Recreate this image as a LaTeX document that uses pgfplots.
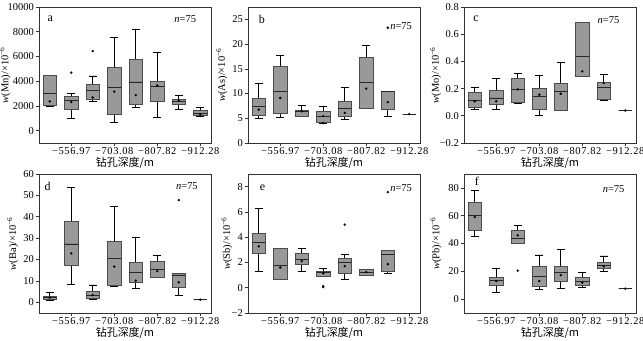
\documentclass[border=0pt]{standalone}
\usepackage{fontspec}
\setmainfont{Liberation Serif}
\newfontfamily\cjk{Noto Sans CJK SC}
\usepackage{pgfplots}
\pgfplotsset{compat=1.18}
\usepgfplotslibrary{statistics}

\pgfplotsset{
 panel/.style={
  scale only axis, width=172bp, height=136bp,
  anchor=south west,
  xmin=0.5, xmax=8.5,
  xtick={2,4,6,8},
  xticklabels={−556.97,−703.08,−807.82,−912.28},
  scaled y ticks=false,
  tick align=outside, tick pos=left,
  major tick length=3bp,
  axis line style={black!80, line width=0.8pt},
  tick style={black!80, line width=0.6pt},
  /pgf/number format/assume math mode=true,
  yticklabel style={font=\fontsize{10.5}{12}\selectfont, inner sep=2bp},
  xticklabel style={font=\fontsize{10.5}{12}\selectfont\addfontfeature{LetterSpace=6}, yshift=1.5bp},
  xlabel={\cjk 钻孔深度/m},
  xlabel style={font=\fontsize{11}{12}\selectfont, yshift=5bp},
  ylabel style={font=\fontsize{10.5}{12}\selectfont, anchor=south},
  boxplot/draw direction=y,
  boxplot/box extend=0.62,
  boxplot/whisker extend=0.35,
  boxplot/every whisker/.style={black, line width=0.7pt},
  boxplot/every median/.style={black!85, line width=0.7pt},
 },
 boxstyle/.style={draw=black!70, fill=gray!80, line width=0.7pt, solid},
 meanstyle/.style={only marks, mark=*, mark size=1.0pt, black},
}
\newcommand{\bx}[6]{\addplot[boxstyle, boxplot prepared={draw position=#1, lower whisker=#2, lower quartile=#3, median=#4, upper quartile=#5, upper whisker=#6}] coordinates {};}
\newcommand{\lab}[4]{\node[font=\fontsize{12}{12}\selectfont] at (rel axis cs:#1) {#2};\node[font=\fontsize{10.5}{12}\selectfont] at (rel axis cs:#3) {#4};}

\begin{document}
\begin{tikzpicture}
\useasboundingbox (0,0) rectangle (643bp,341bp);

% a Mn
\begin{axis}[panel, at={(39bp,198bp)}, ymin=-1000, ymax=10000,
  ytick={0,2000,4000,6000,8000,10000}, yticklabels={0,2000,4000,6000,8000,10000},
  ylabel={\textit{w}(Mn)/×10\textsuperscript{−6}},
  ylabel style={at={(axis description cs:-0.145,0.5)}}]
\bx{1}{1930}{2060}{3030}{4450}{4450}
\bx{2}{990}{1690}{2410}{2810}{3030}
\bx{3}{2330}{2490}{3270}{3780}{4420}
\bx{4}{670}{1340}{3490}{5120}{7560}
\bx{5}{1900}{2120}{3940}{5740}{8180}
\bx{6}{1100}{2330}{3570}{3990}{6330}
\bx{7}{1740}{2090}{2330}{2520}{2820}
\bx{8}{1130}{1210}{1390}{1640}{1850}
\addplot[meanstyle] coordinates {(1,2360)(2,2300)(3,2680)(4,3160)(5,2870)(6,3650)(7,2440)(8,1310)};
\addplot[meanstyle] coordinates {(2,4690)(3,6430)};
\lab{0.065,0.91}{a}{0.85,0.91}{\textit{n}=75}
\end{axis}

% b As
\begin{axis}[panel, at={(248bp,198bp)}, ymin=0, ymax=27.5,
  ytick={0,5,10,15,20,25}, yticklabels={0,5,10,15,20,25},
  ylabel={\textit{w}(As)/×10\textsuperscript{−6}},
  ylabel style={at={(axis description cs:-0.1,0.5)}}]
\bx{1}{4.9}{5.5}{7.4}{9.0}{12.0}
\bx{2}{5.1}{6.0}{10.4}{15.4}{17.7}
\bx{3}{5.3}{5.3}{6.3}{6.6}{7.6}
\bx{4}{4.0}{4.2}{5.3}{6.4}{7.4}
\bx{5}{4.8}{5.3}{6.95}{8.4}{11.2}
\bx{6}{7.1}{7.1}{12.2}{17.3}{19.7}
\bx{7}{5.45}{6.8}{10.5}{10.5}{10.5}
\bx{8}{5.85}{5.85}{5.85}{5.85}{5.85}
\addplot[meanstyle] coordinates {(1,6.75)(2,9.1)(3,6.4)(4,5.45)(5,6.1)(6,11.0)(7,8.25)(8,5.85)};
\addplot[meanstyle] coordinates {(4,4.0)(7,23.3)};
\lab{0.08,0.91}{b}{0.89,0.86}{\textit{n}=75}
\end{axis}

% c Mo
\begin{axis}[panel, at={(464bp,198bp)}, ymin=-0.2, ymax=0.8,
  ytick={-0.2,0,0.2,0.4,0.6,0.8}, yticklabels={−0.2,0.0,0.2,0.4,0.6,0.8},
  ylabel={\textit{w}(Mo)/×10\textsuperscript{−6}},
  ylabel style={at={(axis description cs:-0.112,0.5)}}]
\bx{1}{0.044}{0.061}{0.116}{0.172}{0.209}
\bx{2}{0.044}{0.085}{0.131}{0.184}{0.276}
\bx{3}{0.095}{0.099}{0.194}{0.279}{0.31}
\bx{4}{0.0}{0.051}{0.143}{0.201}{0.296}
\bx{5}{0.041}{0.041}{0.177}{0.24}{0.395}
\bx{6}{0.288}{0.288}{0.436}{0.688}{0.688}
\bx{7}{0.116}{0.124}{0.206}{0.247}{0.305}
\bx{8}{0.039}{0.039}{0.039}{0.039}{0.039}
\addplot[meanstyle] coordinates {(1,0.107)(2,0.107)(3,0.194)(4,0.155)(5,0.162)(6,0.327)(7,0.24)(8,0.039)};
\lab{0.07,0.91}{c}{0.84,0.9}{\textit{n}=75}
\end{axis}

% d Ba
\begin{axis}[panel, at={(39bp,28bp)}, height=139bp, ymin=-5, ymax=60,
  ytick={0,10,20,30,40,50,60}, yticklabels={0,10,20,30,40,50,60},
  ylabel={\textit{w}(Ba)/×10\textsuperscript{−6}},
  ylabel style={at={(axis description cs:-0.1,0.5)}}]
\bx{1}{1.1}{1.25}{2.2}{2.8}{4.7}
\bx{2}{8.5}{17.1}{27.3}{38.0}{53.7}
\bx{3}{1.6}{1.9}{3.4}{5.0}{8.1}
\bx{4}{7.3}{7.8}{20.6}{28.3}{44.9}
\bx{5}{6.5}{9.3}{14.0}{18.7}{30.2}
\bx{6}{11.5}{11.5}{15.4}{19.2}{21.8}
\bx{7}{3.1}{7.0}{12.8}{13.4}{13.4}
\bx{8}{1.25}{1.25}{1.25}{1.25}{1.25}
\addplot[meanstyle] coordinates {(1,2.2)(2,22.9)(3,3.4)(4,16.7)(5,10.1)(6,14.6)(7,9.3)(8,1.25)};
\addplot[meanstyle] coordinates {(7,47.8)};
\lab{0.05,0.91}{d}{0.86,0.91}{\textit{n}=75}
\end{axis}

% e Sb
\begin{axis}[panel, at={(248bp,28bp)}, height=139bp, ymin=-2, ymax=9,
  ytick={-2,0,2,4,6,8}, yticklabels={−2,0,2,4,6,8},
  ylabel={\textit{w}(Sb)/×10\textsuperscript{−6}},
  ylabel style={at={(axis description cs:-0.07,0.5)}}]
\bx{1}{1.31}{2.76}{3.57}{4.28}{6.3}
\bx{2}{0.66}{0.66}{1.78}{3.1}{3.1}
\bx{3}{1.31}{1.84}{2.23}{2.76}{3.1}
\bx{4}{0.92}{0.92}{1.18}{1.31}{1.52}
\bx{5}{0.66}{1.13}{1.97}{2.31}{2.62}
\bx{6}{1.0}{1.0}{1.23}{1.44}{1.44}
\bx{7}{1.13}{1.26}{2.62}{2.97}{2.97}
\addplot[meanstyle] coordinates {(1,3.28)(2,1.6)(3,2.1)(4,1.13)(5,1.71)(6,1.23)(7,1.86)};
\addplot[meanstyle] coordinates {(4,0.05)(4,0.12)(5,4.99)(7,7.56)};
\lab{0.085,0.9}{e}{0.89,0.9}{\textit{n}=75}
\end{axis}

% f Pb
\begin{axis}[panel, at={(464bp,28bp)}, height=139bp, ymin=-10, ymax=90,
  ytick={0,20,40,60,80}, yticklabels={0,20,40,60,80},
  ylabel={\textit{w}(Pb)/×10\textsuperscript{−6}},
  ylabel style={at={(axis description cs:-0.11,0.5)}}]
\bx{1}{45.1}{49.2}{60.0}{69.9}{78.3}
\bx{2}{5.1}{10.1}{13.5}{15.9}{21.9}
\bx{3}{39.8}{39.8}{43.9}{49.2}{52.8}
\bx{4}{7.0}{8.9}{16.6}{23.9}{31.8}
\bx{5}{7.5}{13.0}{19.0}{23.4}{35.9}
\bx{6}{8.4}{9.6}{12.5}{15.9}{19.3}
\bx{7}{20.2}{21.9}{24.3}{26.7}{31.1}
\bx{8}{7.5}{7.5}{7.5}{7.5}{7.5}
\addplot[meanstyle] coordinates {(1,59.0)(2,13.0)(3,45.8)(4,13.0)(5,17.3)(6,11.8)(7,23.6)(8,7.5)};
\addplot[meanstyle] coordinates {(3,20.5)};
\lab{0.075,0.95}{f}{0.87,0.89}{\textit{n}=75}
\end{axis}
\end{tikzpicture}
\end{document}
